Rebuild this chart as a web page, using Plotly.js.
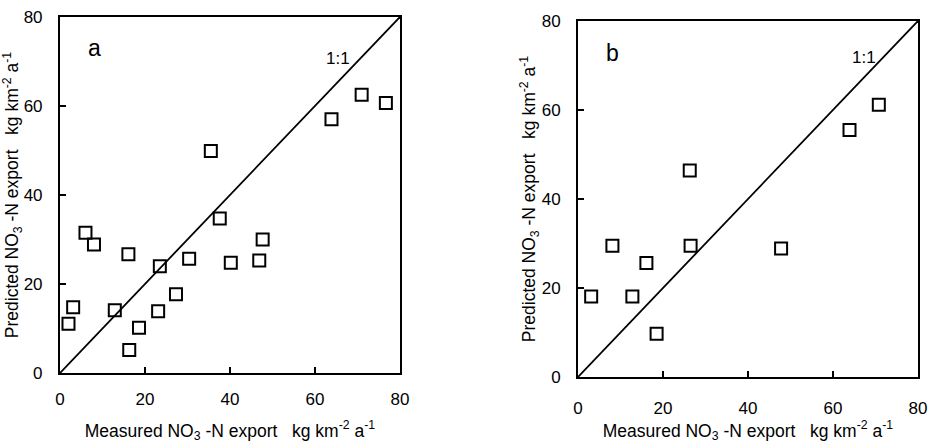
<!DOCTYPE html>
<html>
<head>
<meta charset="utf-8">
<script src="https://cdn.plot.ly/plotly-3.0.1.min.js"></script>
<style>
  html, body { margin: 0; padding: 0; background: #fff; }
  #chart { width: 930px; height: 447px; }
</style>
</head>
<body>
<div id="chart"></div>
<script>
// Panel a: measured vs predicted NO3-N export (kg km-2 a-1)
const measuredA = [2.0, 3.1, 6.0, 8.0, 12.9, 16.1, 16.3, 18.6, 23.1, 23.5,
                   27.3, 30.4, 35.5, 37.6, 40.2, 46.9, 47.7, 63.9, 71.0, 76.7];
const predictedA = [11.1, 14.8, 31.5, 28.9, 14.1, 26.7, 5.2, 10.2, 13.9, 24.0,
                    17.7, 25.7, 49.9, 34.7, 24.8, 25.3, 30.0, 57.0, 62.5, 60.7];

// Panel b: measured vs predicted NO3-N export (kg km-2 a-1)
const measuredB = [3.1, 8.1, 12.8, 16.1, 18.5, 26.3, 26.5, 47.8, 63.9, 70.8];
const predictedB = [18.1, 29.5, 18.1, 25.6, 9.7, 46.4, 29.5, 28.9, 55.5, 61.2];

// 1:1 reference line end points
const oneToOne = [0, 80];

const tickValues = [0, 20, 40, 60, 80];
const tickLabels = ['0', '20', '40', '60', '80'];
const panelLabels = ['a', 'b'];

const xTitle = 'Measured NO<sub>3</sub> -N export   kg km<sup>-2</sup> a<sup>-1</sup>';
const yTitle = 'Predicted NO<sub>3</sub> -N export   kg km<sup>-2</sup> a<sup>-1</sup>';

const FONT = 'Arial, Liberation Sans, sans-serif';

const markerStyle = {
  symbol: 'square-open',
  size: 12,
  color: '#000',
  line: { width: 2, color: '#000' }
};

const traces = [
  { x: oneToOne, y: oneToOne, xaxis: 'x', yaxis: 'y', mode: 'lines',
    line: { color: '#000', width: 1.8 }, hoverinfo: 'skip' },
  { x: measuredA, y: predictedA, xaxis: 'x', yaxis: 'y', mode: 'markers',
    marker: markerStyle },
  { x: oneToOne, y: oneToOne, xaxis: 'x2', yaxis: 'y2', mode: 'lines',
    line: { color: '#000', width: 1.8 }, hoverinfo: 'skip' },
  { x: measuredB, y: predictedB, xaxis: 'x2', yaxis: 'y2', mode: 'markers',
    marker: markerStyle }
];

function xAxis(domain, anchor, labelGap, titleGap) {
  return {
    domain: domain, anchor: anchor, range: [0, 80],
    showline: true, mirror: true, linecolor: '#000', linewidth: 2,
    showgrid: false, zeroline: false,
    ticks: 'inside', ticklen: 6, tickwidth: 1.5, tickcolor: '#000',
    tickvals: tickValues, ticktext: tickLabels,
    tickfont: { family: FONT, size: 17, color: '#000' },
    ticklabelstandoff: labelGap,
    title: { text: xTitle, font: { family: FONT, size: 17.5, color: '#000' }, standoff: titleGap }
  };
}

function yAxis(domain, anchor) {
  return {
    domain: domain, anchor: anchor, range: [0, 80],
    showline: true, mirror: true, linecolor: '#000', linewidth: 2,
    showgrid: false, zeroline: false,
    ticks: 'inside', ticklen: 6, tickwidth: 1.5, tickcolor: '#000',
    tickvals: tickValues, ticktext: tickLabels,
    tickfont: { family: FONT, size: 17, color: '#000' },
    ticklabelstandoff: 12,
    title: { text: yTitle, font: { family: FONT, size: 17.5, color: '#000' }, standoff: 0 }
  };
}

const layout = {
  width: 930, height: 447,
  margin: { l: 0, r: 0, t: 0, b: 0 },
  paper_bgcolor: '#fff', plot_bgcolor: '#fff',
  showlegend: false,
  font: { family: FONT, color: '#000' },
  xaxis: xAxis([0.0645, 0.430], 'y', 10, 16),
  yaxis: yAxis([0.1655, 0.962], 'x'),
  xaxis2: xAxis([0.6215, 0.987], 'y2', 15, 6),
  yaxis2: yAxis([0.1566, 0.953], 'x2'),
  annotations: [
    { xref: 'x', yref: 'y', x: 8.2, y: 73, text: panelLabels[0], showarrow: false,
      font: { family: FONT, size: 23, color: '#000' } },
    { xref: 'x2', yref: 'y2', x: 8.2, y: 72.8, text: panelLabels[1], showarrow: false,
      font: { family: FONT, size: 23, color: '#000' } },
    { xref: 'x', yref: 'y', x: 65.5, y: 70.6, text: '1:1', showarrow: false,
      font: { family: FONT, size: 17, color: '#000' } },
    { xref: 'x2', yref: 'y2', x: 67.2, y: 71.8, text: '1:1', showarrow: false,
      font: { family: FONT, size: 17, color: '#000' } }
  ]
};

Plotly.newPlot('chart', traces, layout, { displayModeBar: false, staticPlot: true });
</script>
</body>
</html>
